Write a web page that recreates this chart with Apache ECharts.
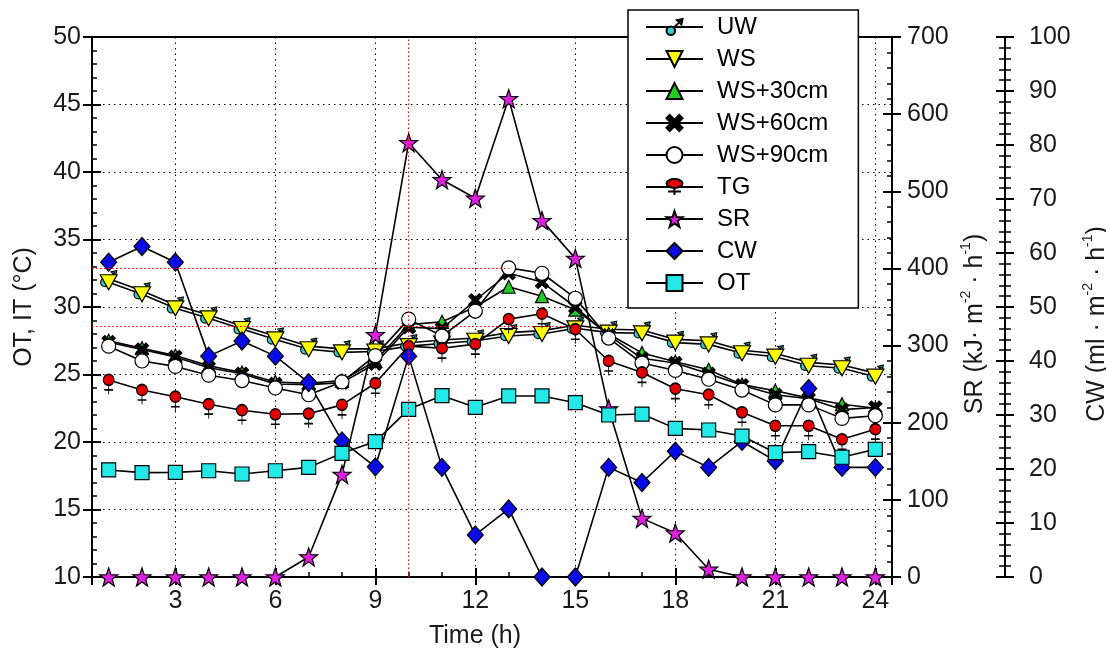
<!DOCTYPE html>
<html><head><meta charset="utf-8">
<script src="https://cdn.jsdelivr.net/npm/echarts@6/dist/echarts.min.js"></script>
<style>html,body{margin:0;padding:0;background:#fff}#c{width:1106px;height:652px}</style>
</head><body><div id="c"></div>
<script>
const hours = [1,2,3,4,5,6,7,8,9,10,11,12,13,14,15,16,17,18,19,20,21,22,23,24];
const seriesNames = ['UW','WS','WS+30cm','WS+60cm','WS+90cm','TG','SR','CW','OT'];
const UW   = [32.1,31.2,30.15,29.4,28.6,27.85,27.1,26.9,26.9,27.35,27.55,27.7,28.1,28.25,28.65,28.35,28.3,27.6,27.5,26.8,26.55,25.9,25.7,25.1];
const WS   = [31.83,30.94,29.9,29.16,28.37,27.6,26.87,26.64,26.7,27.1,27.3,27.5,27.85,28.0,28.42,28.1,28.05,27.36,27.23,26.57,26.32,25.65,25.46,24.84];
const WS30 = [27.5,26.95,26.4,25.65,25.15,24.45,24.35,24.55,26.0,28.7,28.9,30.0,31.5,30.8,29.8,28.0,26.6,25.95,25.35,24.25,23.8,23.25,22.8,22.5];
const WS60 = [27.4,26.85,26.3,25.5,25.05,24.3,24.25,24.4,25.8,28.5,28.4,30.5,32.5,31.85,30.0,27.9,26.2,25.85,25.05,24.2,23.5,23.2,22.4,22.55];
const WS90 = [27.1,26.0,25.6,24.95,24.55,24.0,23.5,24.45,26.4,29.1,27.85,29.7,32.9,32.5,30.65,27.7,25.85,25.3,24.65,23.85,22.75,22.75,21.75,21.95];
const TG   = [24.6,23.85,23.35,22.8,22.35,22.05,22.1,22.75,24.35,27.1,26.95,27.25,29.1,29.5,28.35,26.0,25.15,23.95,23.5,22.2,21.2,21.2,20.2,20.95];
const SR   = [0,0,0,0,0,0,26,133,314,563,515,491,620,462,413,218,76,57,10,0,0,0,0,0];
const CW   = [58.3,61.2,58.3,40.9,43.7,40.9,36.0,25.2,20.4,40.9,20.3,7.8,12.6,0,0,20.3,17.5,23.3,20.3,25.1,21.5,34.9,20.3,20.3];
const OT   = [17.93,17.73,17.75,17.87,17.63,17.87,18.12,19.16,20.03,22.42,23.43,22.57,23.41,23.41,22.91,22.0,22.07,21.01,20.89,20.44,19.21,19.28,18.87,19.46];
// red dotted reference (crosshair) lines: [x1, y1, x2, y2] in data units of the left axis
const refLines = [[0.5,32.9,13,32.9],[0.5,28.6,15,28.6],[10,10,10,50]];

const FONT = "'Liberation Sans', Arial, sans-serif";
const pair = a => a.map((v,i)=>[hours[i], v]);

const SYM = {
  uw: 'path://M-3.5,0A3.5,3.5 0 1,1 3.5,0A3.5,3.5 0 1,1 -3.5,0Z M2.3,-2.3L8.2,-8.2 M9.5,-9.5L5,-8.6L8.6,-5Z',
  down: 'path://M-8,-6L8,-6L0,7Z',
  x: 'path://M-5,-3L-3,-5L0,-2L3,-5L5,-3L2,0L5,3L3,5L0,2L-3,5L-5,3L-2,0Z',
  tg: 'path://M-5,0A5,5 0 1,1 5,0A5,5 0 1,1 -5,0Z M0,5L0,13 M-4,9L4,9',
  star: 'path://M0,-10L2.35,-3.24L9.51,-3.09L3.8,1.24L5.88,8.09L0,4L-5.88,8.09L-3.8,1.24L-9.51,-3.09L-2.35,-3.24Z'
};

function mk(name, data, yIdx, symbol, size, color, extra) {
  return Object.assign({
    name, type:'line', data: pair(data), xAxisIndex:0, yAxisIndex:yIdx,
    symbol, symbolSize:size, showSymbol:true, showAllSymbol:true,
    lineStyle:{color:'#000', width:1.6},
    itemStyle:{color, borderColor:'#000', borderWidth:1.2},
    emphasis:{disabled:true}, animation:false
  }, extra||{});
}

const dotted = {show:true, lineStyle:{color:'#000', width:1, type:[1.5,4]}};
const axBase = {type:'value', min:0.5, max:24.5, splitNumber:8};
const TXT = '#1a1a1a';
const supRich = {a:{fontSize:25, color:TXT, fontFamily:FONT, lineHeight:30}, s:{fontSize:14, color:TXT, fontFamily:FONT, verticalAlign:'top'}};

const option = {
  animation:false,
  textStyle:{fontFamily:FONT},
  grid:{left:92, right:214, top:37, bottom:75, outerBoundsMode:'none', containLabel:false},
  legend:{
    orient:'vertical', left:628, top:10, z:20,
    backgroundColor:'#fff', borderColor:'#000', borderWidth:1.5,
    padding:[4,30,12,17], itemWidth:57, itemHeight:20, itemGap:6,
    selectedMode:false,
    textStyle:{fontSize:24, color:'#000', fontFamily:FONT, lineHeight:26, padding:[0,0,0,9]},
    data: seriesNames
  },
  xAxis:[
    Object.assign({}, axBase, {position:'bottom',
      axisLine:{onZero:false, lineStyle:{color:'#000', width:2}},
      axisTick:{inside:true, length:9, lineStyle:{color:'#000', width:2}},
      axisLabel:{fontSize:25, color:TXT, margin:12, showMinLabel:false, showMaxLabel:false, fontFamily:FONT},
      splitLine:dotted,
      name:'Time (h)', nameLocation:'middle', nameGap:47,
      nameTextStyle:{fontSize:25, color:TXT, fontFamily:FONT, padding:[0,34,0,0]}}),
    Object.assign({}, axBase, {position:'bottom',
      axisLine:{show:false, onZero:false}, axisTick:{inside:false, length:8, lineStyle:{color:'#000', width:2}},
      axisLabel:{show:false}, splitLine:{show:false}}),
    Object.assign({}, axBase, {position:'bottom', splitNumber:24,
      axisLine:{show:false, onZero:false}, axisTick:{inside:true, length:5, lineStyle:{color:'#000', width:1.5}},
      axisLabel:{show:false}, splitLine:{show:false}}),
    Object.assign({}, axBase, {position:'top',
      axisLine:{show:true, onZero:false, lineStyle:{color:'#000', width:2}}, axisTick:{show:false},
      axisLabel:{show:false}, splitLine:{show:false}})
  ],
  yAxis:[
    {type:'value', position:'left', min:10, max:50, interval:5,
     axisLine:{show:true, onZero:false, lineStyle:{color:'#000', width:2}},
     axisTick:{inside:true, length:9, lineStyle:{color:'#000', width:2}},
     minorTick:{show:true, splitNumber:5, length:5, lineStyle:{color:'#000', width:1.5}},
     axisLabel:{fontSize:25, color:TXT, margin:11, fontFamily:FONT},
     splitLine:dotted,
     name:'OT, IT (°C)', nameLocation:'middle', nameGap:55,
     nameTextStyle:{fontSize:25, color:TXT, fontFamily:FONT}},
    {type:'value', position:'left', min:10, max:50, interval:5,
     axisLine:{show:false, onZero:false}, axisTick:{inside:false, length:9, lineStyle:{color:'#000', width:2}},
     axisLabel:{show:false}, splitLine:{show:false}},
    {type:'value', position:'right', min:0, max:700, interval:100,
     axisLine:{show:true, onZero:false, lineStyle:{color:'#000', width:2}},
     axisTick:{show:true, inside:true, length:9, lineStyle:{color:'#000', width:2}},
     minorTick:{show:true, splitNumber:5, length:5, lineStyle:{color:'#000', width:1.5}},
     axisLabel:{fontSize:25, color:TXT, margin:15, fontFamily:FONT},
     splitLine:{show:false},
     name:'{a|SR (kJ· m}{s|-2}{a| · h}{s|-1}{a|)}', nameLocation:'middle', nameGap:58,
     nameTextStyle:{fontSize:25, color:TXT, fontFamily:FONT, padding:[0,34,0,0], rich:supRich}},
    {type:'value', position:'right', min:0, max:700, interval:100,
     axisLine:{show:false, onZero:false}, axisTick:{show:true, inside:false, length:9, lineStyle:{color:'#000', width:2}},
     axisLabel:{show:false}, splitLine:{show:false}},
    {type:'value', position:'right', offset:113, min:0, max:100, interval:10,
     axisLine:{show:true, onZero:false, lineStyle:{color:'#000', width:2}},
     axisTick:{show:true, inside:false, length:9, lineStyle:{color:'#000', width:2}},
     minorTick:{show:true, splitNumber:5, length:6, lineStyle:{color:'#000', width:1.5}},
     axisLabel:{fontSize:25, color:TXT, margin:24, fontFamily:FONT},
     splitLine:{show:false},
     name:'{a|CW (ml · m}{s|-2}{a| · h}{s|-1}{a|)}', nameLocation:'middle', nameGap:61,
     nameTextStyle:{fontSize:25, color:TXT, fontFamily:FONT, padding:[0,34,0,0], rich:supRich}},
    {type:'value', position:'right', offset:113, min:0, max:100, interval:10,
     axisLine:{show:false, onZero:false}, axisTick:{show:true, inside:true, length:9, lineStyle:{color:'#000', width:2}},
     minorTick:{show:true, splitNumber:5, length:6, lineStyle:{color:'#000', width:1.5}},
     axisLabel:{show:false}, splitLine:{show:false}}
  ],
  series:[
    mk('UW', UW, 0, SYM.uw, 16, '#3cc8c8'),
    mk('WS', WS, 0, SYM.down, [17,15], '#ffff00'),
    mk('WS+30cm', WS30, 0, 'triangle', 13, '#22cc22'),
    mk('WS+60cm', WS60, 0, SYM.x, 13, '#000'),
    mk('WS+90cm', WS90, 0, 'circle', 14, '#ffffff', {
      markLine:{silent:true, symbol:'none', label:{show:false}, animation:false,
        lineStyle:{color:'#ff0000', width:1, type:[1.5,2.5]},
        data: refLines.map(r=>[{coord:[r[0],r[1]]},{coord:[r[2],r[3]]}])}}),
    mk('TG', TG, 0, SYM.tg, [11,20], '#e00000', {symbolOffset:[0,4.4]}),
    mk('SR', SR, 2, SYM.star, 18, '#e020e0'),
    mk('CW', CW, 4, 'diamond', [16,18], '#0a0ae6'),
    mk('OT', OT, 0, 'rect', 14, '#22e8e8')
  ]
};
echarts.init(document.getElementById('c'), null, {renderer:'canvas'}).setOption(option);
</script></body></html>
